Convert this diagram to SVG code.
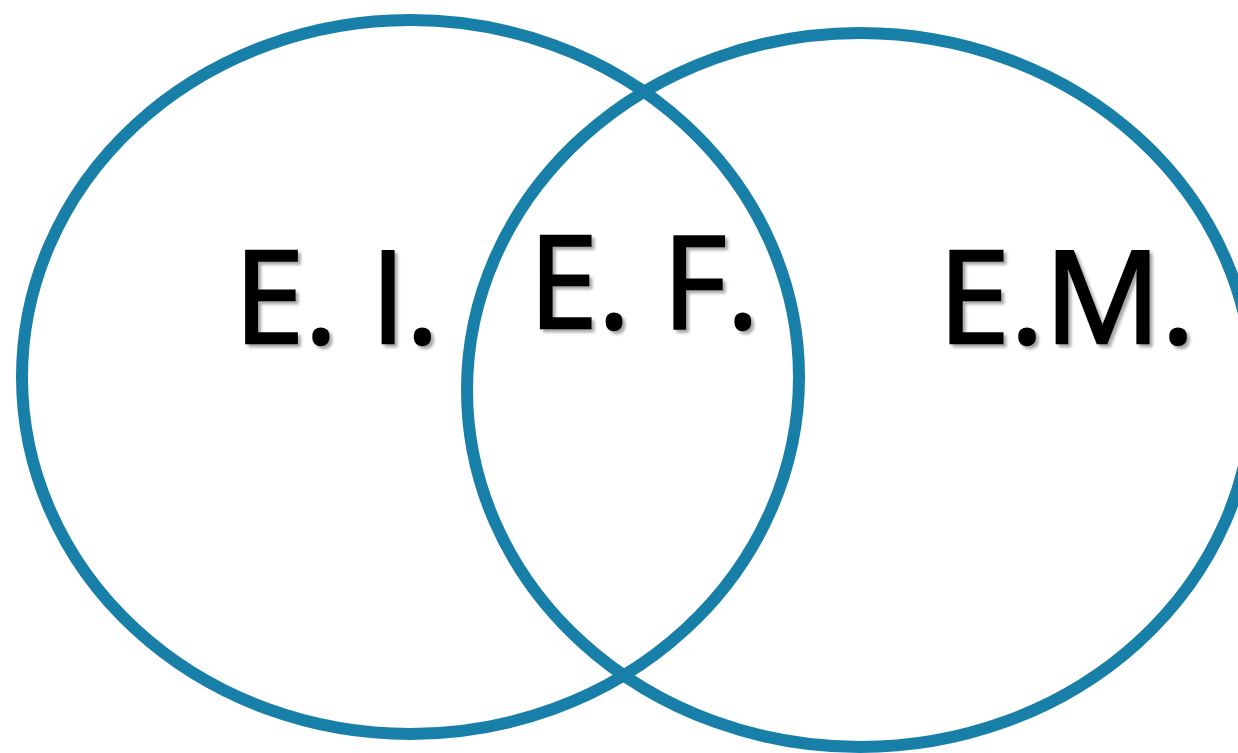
<svg xmlns="http://www.w3.org/2000/svg" width="1238" height="753" viewBox="0 0 1238 753">
<style>
.ring{fill:none;stroke:#187fa8;stroke-width:12}
.lbl{font-family:"Open Sans","Noto Sans","Liberation Sans",sans-serif;font-size:128px;font-weight:400;fill:#000;stroke:#000;stroke-width:2.5;filter:url(#sh)}
</style>
<defs>
<filter id="sh" x="-10%" y="-10%" width="120%" height="130%">
<feDropShadow dx="3" dy="3" stdDeviation="1.5" flood-color="#000" flood-opacity="0.35"/>
</filter>
</defs>
<rect width="1238" height="753" fill="#fff"/>
<g id="left-set"><ellipse class="ring" cx="410.5" cy="377" rx="388.5" ry="357"/></g>
<g id="right-set"><ellipse class="ring" cx="860" cy="390" rx="393" ry="357"/></g>
<g id="connectors"></g>
<g id="label-ei"><text class="lbl" x="234" y="343" textLength="205" lengthAdjust="spacingAndGlyphs">E. I.</text></g>
<g id="label-ef"><text class="lbl" x="529" y="328" textLength="230" lengthAdjust="spacingAndGlyphs">E. F.</text></g>
<g id="label-em"><text class="lbl" x="938" y="343" textLength="257" lengthAdjust="spacingAndGlyphs">E.M.</text></g>
</svg>
